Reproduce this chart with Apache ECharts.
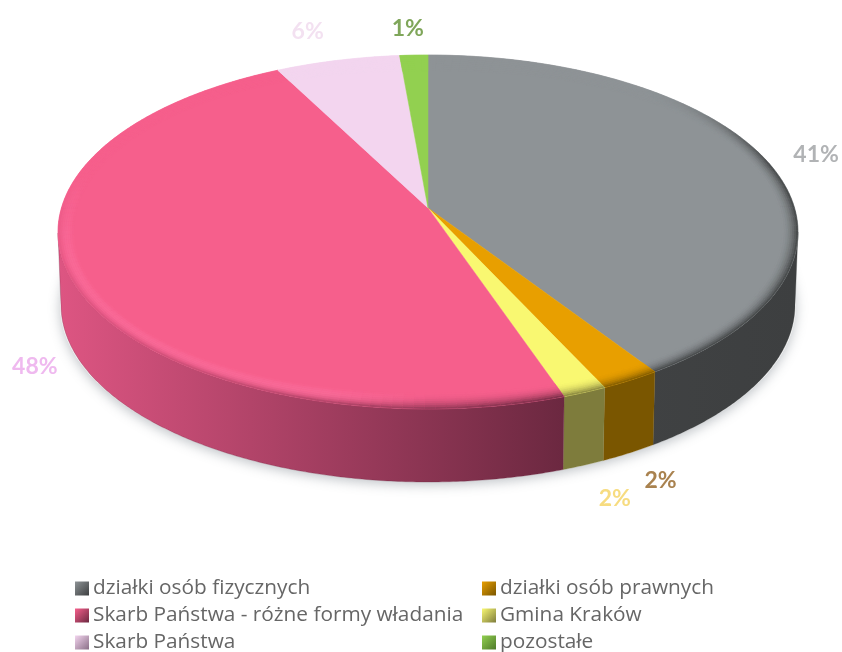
<!DOCTYPE html>
<html><head><meta charset="utf-8">
<style>html,body{margin:0;padding:0;background:#fff}#c{width:842px;height:652px}</style>
<script src="https://cdn.jsdelivr.net/npm/echarts@6/dist/echarts.min.js"></script>
</head><body><div id="c"></div>
<script>
var categories=['działki osób fizycznych','działki osób prawnych','Gmina Kraków','Skarb Państwa - różne formy władania','Skarb Państwa','pozostałe'];
var values=[40.8,2.3,1.7,47.7,6.2,1.4];
var topColors=['#8e9396','#e89f00','#f9f871','#f65f8c','#f3d5ef','#92d050'];
var wallStart=['#4a4c4e','#7a5600','#7e7c3c','#dd5582','#8a6f87','#4f7a2a'];
var wallEnd=['#3d3f40','#7a5600','#7e7c3c','#6b2840','#8a6f87','#4f7a2a'];
var labelColors=['#b1b3b5','#a9824f','#f7dc80','#efb9ef','#f3e1f1','#7fa65a'];
var labelShift=[[50,-5],[30,100],[30,106],[-37,87],[-30,-29],[-6,-27]];
var leftLegend=[0,3,4], rightLegend=[1,2,5];

var G={cx:428,cy:232,rx:370,ry:177,d:0.136,h:73,baseRx:367,lip:16,layers:8};
var apex=[G.cx,G.cy-G.ry*G.d];
var total=values.reduce(function(a,b){return a+b},0);
function hex(c){return [parseInt(c.substr(1,2),16),parseInt(c.substr(3,2),16),parseInt(c.substr(5,2),16)]}
function mix(a,b,t){var A=hex(a),B=hex(b);return '#'+[0,1,2].map(function(i){var v=Math.round(A[i]+(B[i]-A[i])*t);return (v<16?'0':'')+v.toString(16)}).join('')}
function unit(th){var u=Math.sin(th),v=Math.cos(th),n=1+G.d*v;
  return {u:u*Math.sqrt(1-G.d*G.d)/n,v:(v+G.d)/n}}
function pt(p,dy,rx){dy=dy||0;rx=rx||G.rx;
  return [G.cx+rx*p.u,G.cy-G.ry*p.v+dy]}
function rimPt(p,inset){var P=pt(p),dx=apex[0]-P[0],dy=apex[1]-P[1],len=Math.sqrt(dx*dx+dy*dy);
  return [P[0]+dx*inset/len,P[1]+dy*inset/len]}
function wallColorAt(i,x){var t=i===3?Math.max(0,Math.min(1,(x-60)/505)):1;return mix(wallStart[i],wallEnd[i],t)}
var cum=[];values.reduce(function(a,b,i){cum[i]=a;return a+b},0);

function renderSlice(params,api){
  var i=params.seriesIndex-1,start=api.value(0),val=api.value(1);
  var a0=start/total*2*Math.PI,a1=(start+val)/total*2*Math.PI;
  var step=Math.PI/360,n=Math.max(2,Math.ceil((a1-a0)/step)),ths=[];
  for(var k=0;k<=n;k++)ths.push(a0+(a1-a0)*k/n);
  var ch=[];
  var front=ths.map(unit).filter(function(p){return p.v<=0});
  if(front.length>1){
    var poly=front.map(function(p){return pt(p)});
    front.slice().reverse().forEach(function(p){poly.push(pt(p,G.h,G.baseRx))});
    ch.push({type:'polygon',silent:true,shape:{points:poly},style:{
      fill:{type:'linear',x:60,y:0,x2:i===3?565:798,y2:0,global:true,colorStops:[{offset:0,color:wallStart[i]},{offset:1,color:wallEnd[i]}]},
      stroke:wallEnd[i],lineWidth:0.3}});
  }
  var top=[apex];
  ths.forEach(function(t){top.push(pt(unit(t)))});
  ch.push({type:'polygon',silent:true,shape:{points:top},style:{fill:topColors[i],stroke:topColors[i],lineWidth:0.5}});
  var rimStep=Math.max(2,Math.ceil((a1-a0)/(Math.PI/120)));
  for(var s=0;s<rimStep;s++){
    var t0=a0+(a1-a0)*s/rimStep,t1=a0+(a1-a0)*(s+1)/rimStep,tm=(t0+t1)/2;
    var sn=Math.sin(tm),cs=Math.cos(tm);
    var frontF=Math.max(0,Math.min(1,(-cs+0.15)/0.55));
    var rightF=Math.max(0,Math.min(1,(sn-0.55)/0.35))*Math.max(0,Math.min(1,(0.75-cs)/0.5));
    var leftF=sn<0?Math.min(1,-sn*4)*Math.max(0,Math.min(1,(0.2-cs)/0.5)):0;
    var p0=unit(t0),p1=unit(t1);
    for(var L=0;L<G.layers;L++){
      var k0=L/G.layers,k1=(L+1)/G.layers,km=(k0+k1)/2;
      var c=topColors[i];
      var wc=wallColorAt(i,pt(unit(tm))[0]);
      var hl=Math.sin(km*Math.PI)*leftF*0.4;
      if(i===3||i===4)c=mix(c,'#ff7aab',hl);
      var blend=Math.max(frontF*Math.pow(km,2.2+2*leftF),rightF*km*km);
      c=mix(c,wc,Math.min(1,blend*0.95));
      var ins0=G.lip*(1-k0),ins1=G.lip*(1-k1);
      var q=[rimPt(p0,ins0),rimPt(p1,ins0),rimPt(p1,ins1),rimPt(p0,ins1)];
      ch.push({type:'polygon',silent:true,shape:{points:q},style:{fill:c,stroke:c,lineWidth:0.3}});
    }
  }
  var mid=unit((a0+a1)/2),m=pt(mid);
  ch.push({type:'text',silent:true,x:m[0]+labelShift[i][0],y:m[1]+labelShift[i][1],z2:50,
    style:{text:Math.round(val/total*100)+'%',fill:labelColors[i],font:'bold 23px Lato, "Open Sans", sans-serif',align:'center',verticalAlign:'middle'}});
  return {type:'group',children:ch};
}
function renderShadow(params,api){
  return {type:'group',children:[{type:'ellipse',silent:true,
    shape:{cx:G.cx,cy:G.cy+G.h,rx:G.baseRx+1,ry:G.ry},
    style:{fill:'#ffffff',shadowColor:'rgba(90,100,110,0.38)',shadowBlur:12,shadowOffsetX:0,shadowOffsetY:3}}]};
}
var series=[{name:'shadow',type:'custom',coordinateSystem:'none',renderItem:renderShadow,data:[[total]],silent:true,animation:false}];
categories.forEach(function(name,i){
  series.push({name:name,type:'custom',coordinateSystem:'none',renderItem:renderSlice,
    data:[[cum[i],values[i]]],itemStyle:{color:topColors[i]},silent:true,animation:false});
});
function legendData(ids){return ids.map(function(i){return {name:categories[i],icon:'rect',itemStyle:{
  color:{type:'linear',x:0,y:0,x2:1,y2:1,colorStops:[{offset:0,color:topColors[i]},{offset:1,color:wallEnd[i]}]}}}})}
function legend(ids,left){return {show:true,orient:'vertical',left:left,top:578,height:90,padding:0,itemWidth:14,itemHeight:14,itemGap:6,
  selectedMode:false,textStyle:{fontFamily:'"Open Sans", sans-serif',fontSize:20.8,color:'#666666',padding:[0,0,0,-1]},data:legendData(ids)}}
var chart=echarts.init(document.getElementById('c'),null,{renderer:'canvas'});
chart.setOption({animation:false,backgroundColor:'#ffffff',legend:[legend(leftLegend,75),legend(rightLegend,482)],series:series});
</script></body></html>
